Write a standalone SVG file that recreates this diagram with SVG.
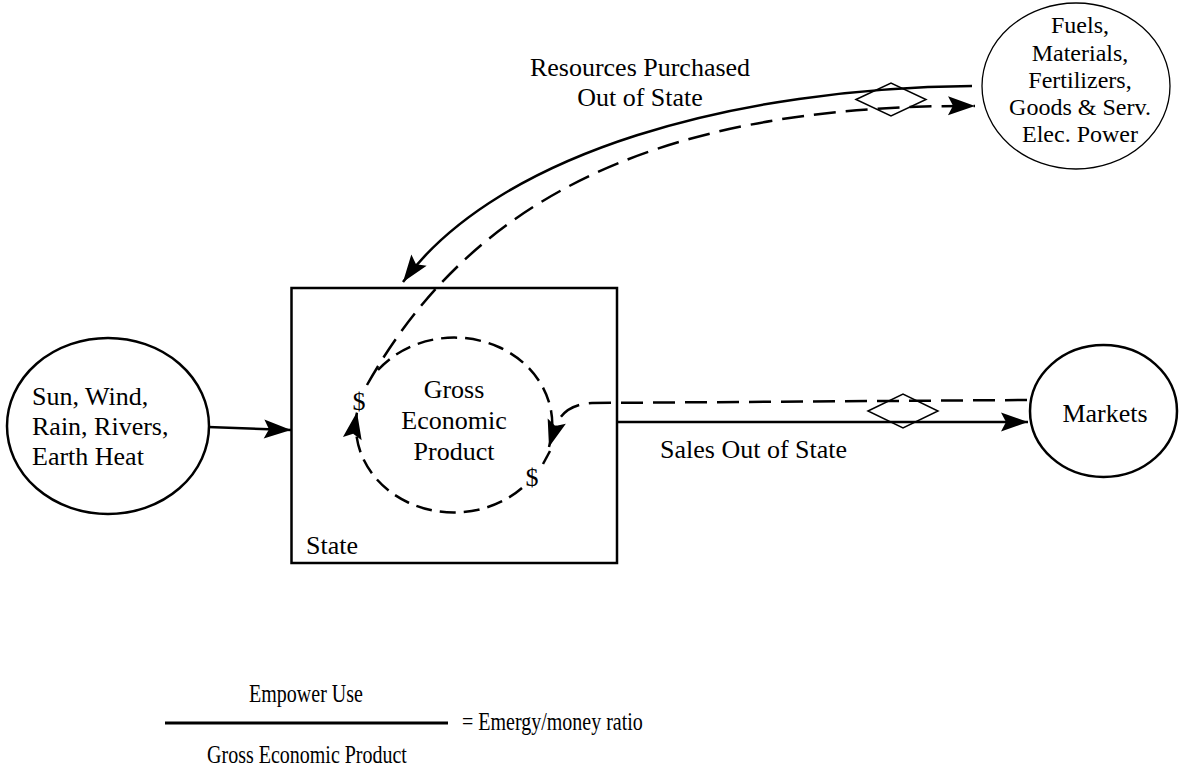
<svg xmlns="http://www.w3.org/2000/svg" width="1181" height="770" viewBox="0 0 1181 770">
  <style>
    text { font-family: "Liberation Serif", "Times New Roman", serif; fill: #000; }
    .t26 { font-size: 26px; }
    .t24 { font-size: 24px; }
    .t20 { font-size: 20px; }
    .mid { text-anchor: middle; }
    .node { fill: none; stroke: #000; stroke-width: 2.5; }
    .thin { fill: none; stroke: #000; stroke-width: 1.3; }
    .flow { fill: none; stroke: #000; stroke-width: 2.5; }
    .money { fill: none; stroke: #000; stroke-width: 2.5; stroke-dasharray: 22 10; }
    .loop { fill: none; stroke: #000; stroke-width: 2.5; stroke-dasharray: 16 8; }
    .trade { fill: none; stroke: #000; stroke-width: 1.5; }
  </style>
  <defs>
    <marker id="head" markerUnits="userSpaceOnUse" markerWidth="28" markerHeight="20" refX="27" refY="9.5" orient="auto" overflow="visible">
      <path d="M0,0 L27,9.5 L0,19 L5,9.5 Z" fill="#000" stroke="none"/>
    </marker>
  </defs>

  <rect x="0" y="0" width="1181" height="770" fill="#fff"/>

  <!-- renewable sources -->
  <g id="node-sources">
    <ellipse class="node" cx="108" cy="426" rx="101" ry="88"/>
    <text class="t26" x="32" y="405">Sun, Wind,</text>
    <text class="t26" x="32" y="435">Rain, Rivers,</text>
    <text class="t26" x="32" y="465">Earth Heat</text>
  </g>

  <!-- state system boundary -->
  <g id="node-state">
    <rect class="node" x="291.5" y="288" width="325.5" height="275"/>
    <text class="t26" x="306" y="554">State</text>
  </g>

  <!-- economy loop inside the state -->
  <g id="node-gep">
    <text class="t26 mid" x="454" y="398">Gross</text>
    <text class="t26 mid" x="454" y="429">Economic</text>
    <text class="t26 mid" x="454" y="460">Product</text>
    <text class="t26 mid" x="359" y="410">$</text>
    <text class="t26 mid" x="532" y="486">$</text>
  </g>

  <!-- purchased inputs -->
  <g id="node-imports">
    <ellipse class="thin" cx="1076" cy="86" rx="94" ry="83"/>
    <text class="t24 mid" x="1080" y="33">Fuels,</text>
    <text class="t24 mid" x="1080" y="61">Materials,</text>
    <text class="t24 mid" x="1080" y="88">Fertilizers,</text>
    <text class="t24 mid" x="1080" y="115">Goods &amp; Serv.</text>
    <text class="t24 mid" x="1080" y="142">Elec. Power</text>
  </g>

  <!-- outside markets -->
  <g id="node-markets">
    <ellipse class="node" cx="1103.5" cy="411" rx="73.5" ry="66"/>
    <text class="t26 mid" x="1105" y="422">Markets</text>
  </g>

  <g id="connectors">
    <!-- environmental inflow -->
    <path class="flow" d="M208,427 L291,430" marker-end="url(#head)"/>

    <!-- purchased resources into the state -->
    <path class="flow" d="M972,86 C740,88 500,150 403,282" marker-end="url(#head)"/>
    <!-- payment for purchases -->
    <path class="money" d="M367,385 C465,211 640,104 975,106" marker-end="url(#head)"/>

    <!-- exports to markets -->
    <path class="flow" d="M617,422 L1028,422" marker-end="url(#head)"/>
    <!-- payment for exports -->
    <path class="money" d="M1027,400 L592,403 C573,404 561,412 556,426"/>

    <!-- internal money circulation -->
    <path class="loop" d="M378,370 A98,87 0 0 1 549,447" marker-end="url(#head)"/>
    <path class="flow" d="M550,451 L543,464"/>
    <path class="loop" d="M522,488 A98,87 0 0 1 357,412" marker-end="url(#head)"/>

    <!-- transaction symbols -->
    <polygon class="trade" points="856,99.5 891,83 926,99.5 891,116"/>
    <polygon class="trade" points="868,411 903,394 938,411 903,428"/>
  </g>

  <g id="labels">
    <text class="t26 mid" x="640" y="76">Resources Purchased</text>
    <text class="t26 mid" x="640" y="106">Out of State</text>
    <text class="t26" x="660" y="458">Sales Out of State</text>
  </g>

  <!-- emergy / money ratio definition -->
  <g id="equation">
    <text class="t20 mid" transform="translate(306,702) scale(1,1.25)">Empower Use</text>
    <path d="M165,723 L448,723" stroke="#000" stroke-width="3"/>
    <text class="t20" transform="translate(462,730) scale(1,1.25)">= Emergy/money ratio</text>
    <text class="t20 mid" transform="translate(307,763) scale(1,1.25)">Gross Economic Product</text>
  </g>
</svg>
